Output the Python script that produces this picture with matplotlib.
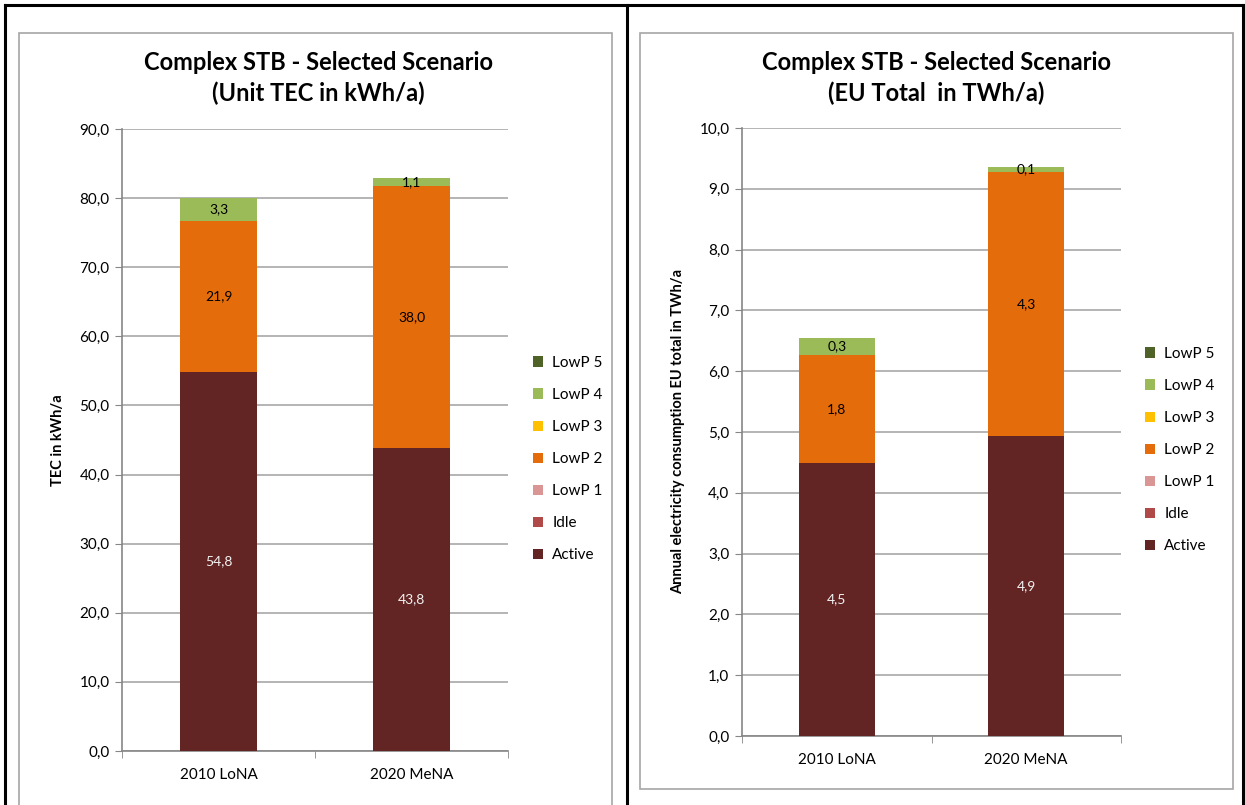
import matplotlib
matplotlib.use("Agg")
import matplotlib.pyplot as plt
from matplotlib.patches import Rectangle
from matplotlib.lines import Line2D
import numpy as np

plt.rcParams['font.family'] = ['Lato', 'DejaVu Sans']

categories = ["2010 LoNA", "2020 MeNA"]
series_names = ["Active", "Idle", "LowP 1", "LowP 2", "LowP 3", "LowP 4", "LowP 5"]
colors = ["#632523", "#B04A48", "#D99694", "#E46C0A", "#FFC000", "#9BBB59", "#4F6228"]

# Left chart: unit TEC in kWh/a
unit_active = [54.8, 43.8]
unit_idle = [0.0, 0.0]
unit_lowp1 = [0.0, 0.0]
unit_lowp2 = [21.9, 38.0]
unit_lowp3 = [0.0, 0.0]
unit_lowp4 = [3.3, 1.1]
unit_lowp5 = [0.0, 0.0]

# Right chart: EU total in TWh/a
eu_active = [4.49, 4.94]
eu_idle = [0.0, 0.0]
eu_lowp1 = [0.0, 0.0]
eu_lowp2 = [1.78, 4.33]
eu_lowp3 = [0.0, 0.0]
eu_lowp4 = [0.28, 0.09]
eu_lowp5 = [0.0, 0.0]

W, H = 1245, 805
fig = plt.figure(figsize=(W / 100, H / 100), dpi=100)

def px_rect(x0, y0, x1, y1):
    return [x0 / W, 1 - y1 / H, (x1 - x0) / W, (y1 - y0) / H]

# outer black table lines
for (xa, ya, xb, yb) in [(5, 5, 1243, 5), (5, 5, 5, 805), (627, 5, 627, 805), (1243, 5, 1243, 805)]:
    fig.add_artist(Line2D([xa / W, xb / W], [1 - ya / H, 1 - yb / H], color="black", lw=2.2))

# gray chart frames
for (x0, y0, x1, y1) in [(19, 33, 612, 812), (640, 33, 1233, 789)]:
    fig.add_artist(Rectangle((x0 / W, 1 - y1 / H), (x1 - x0) / W, (y1 - y0) / H,
                             transform=fig.transFigure, fill=False, edgecolor="#A6A6A6", lw=1.2))

def draw(axrect, data, ymax, ystep, ylabel, title, title_cx, legend_xy, label_fmt, bar_w):
    ax = fig.add_axes(axrect)
    x = np.arange(len(categories))
    bottom = np.zeros(len(categories))
    handles = []
    for name, vals, col in zip(series_names, data, colors):
        vals = np.array(vals)
        bars = ax.bar(x, vals, bar_w, bottom=bottom, color=col, label=name, zorder=3)
        handles.append(bars)
        for xi, v, b in zip(x, vals, bottom):
            if v > 0:
                tc = "#F2F2F2" if name == "Active" else "black"
                ax.text(xi, b + v / 2, label_fmt(v), ha="center", va="center",
                        fontsize=10, color=tc, zorder=4)
        bottom = bottom + vals
    ax.set_xlim(-0.5, len(categories) - 0.5)
    ax.set_ylim(0, ymax)
    ticks = np.arange(0, ymax + ystep / 2, ystep)
    ax.set_yticks(ticks)
    ax.set_yticklabels([f"{t:.1f}".replace(".", ",") for t in ticks], fontsize=11)
    ax.yaxis.grid(True, color="#A0A0A0", lw=1.1, zorder=0)
    ax.set_xticks(x)
    ax.set_xticklabels(categories, fontsize=11)
    ax.set_xticks([-0.5, 0.5, 1.5], minor=True)
    ax.tick_params(axis="x", which="major", length=0, pad=12)
    ax.tick_params(axis="x", which="minor", length=5, color="#868686")
    ax.tick_params(axis="y", length=5, color="#868686", pad=4)
    for s in ["top", "right"]:
        ax.spines[s].set_visible(False)
    for s in ["left", "bottom"]:
        ax.spines[s].set_color("#868686")
        ax.spines[s].set_linewidth(1.2)
    ax.set_ylabel(ylabel, fontsize=10.5, fontweight="bold", labelpad=10)
    fig.text(title_cx / W, 1 - 78 / H, title, ha="center", va="center",
             fontsize=17, fontweight="bold", linespacing=1.35)
    ax.legend(handles[::-1], series_names[::-1], loc="center left",
              bbox_to_anchor=(legend_xy[0] / W, 1 - legend_xy[1] / H),
              bbox_transform=fig.transFigure, frameon=False, fontsize=11,
              handlelength=0.65, handleheight=0.65, handletextpad=0.6,
              labelspacing=1.18, borderaxespad=0)
    return ax

fmt = lambda v: f"{v:.1f}".replace(".", ",")

draw(px_rect(122, 129, 508, 751),
     [unit_active, unit_idle, unit_lowp1, unit_lowp2, unit_lowp3, unit_lowp4, unit_lowp5],
     90, 10, "TEC in kWh/a",
     "Complex STB - Selected Scenario\n(Unit TEC in kWh/a)", 318, (527, 459), fmt, 0.4)

draw(px_rect(742, 128, 1121, 736),
     [eu_active, eu_idle, eu_lowp1, eu_lowp2, eu_lowp3, eu_lowp4, eu_lowp5],
     10, 1, "Annual electricity consumption EU total in TWh/a",
     "Complex STB - Selected Scenario\n(EU Total  in TWh/a)", 936, (1139, 450), fmt, 0.4)

fig.savefig("out.png", dpi=100)
